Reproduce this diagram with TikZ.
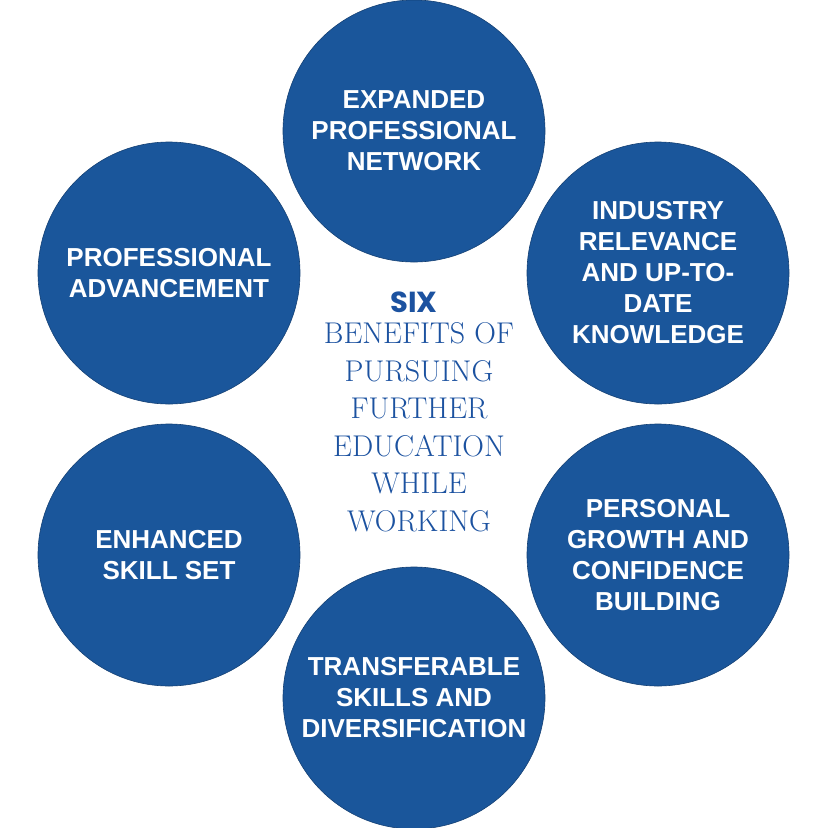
\documentclass[tikz,border=0pt]{standalone}
\usepackage{fontspec}
\usepackage{tikz}
\usepackage{color}
\newfontfamily\boxfont{Liberation Sans}
\newfontfamily\sixfont{Poppins}
\definecolor{benblue}{HTML}{1A569B}
\definecolor{headblue}{HTML}{1C52A0}

\begin{document}
\begin{tikzpicture}[x=1pt,y=-1pt,
  benefit/.style={circle,fill=benblue,draw=benblue!75!black,line width=0.6pt,minimum size=262pt,inner sep=0pt,
    text=white,align=center,font=\boxfont\bfseries\fontsize{26}{31}\selectfont}]
  \useasboundingbox (0,0) rectangle (828,828);
  \node [benefit] (net) at (414,131) {EXPANDED\\PROFESSIONAL\\NETWORK};
  \node [benefit] (ind) at (658,273) {INDUSTRY\\RELEVANCE\\AND UP-TO-\\DATE\\KNOWLEDGE};
  \node [benefit] (pers) at (658,555) {PERSONAL\\GROWTH AND\\CONFIDENCE\\BUILDING};
  \node [benefit] (trans) at (414,698) {TRANSFERABLE\\SKILLS AND\\DIVERSIFICATION};
  \node [benefit] (skill) at (169,555) {ENHANCED\\SKILL SET};
  \node [benefit] (adv) at (169,273) {PROFESSIONAL\\ADVANCEMENT};
  % centre heading
  \node [text=headblue,anchor=base,inner sep=0pt,font=\sixfont\bfseries\fontsize{29}{31}\selectfont] (six) at (414,312) {SIX};
  \node [text=headblue,align=center,inner sep=0pt,font=\fontsize{30}{37.5}\selectfont] (title) at (419,427)
    {BENEFITS OF\\PURSUING\\FURTHER\\EDUCATION\\WHILE\\WORKING};
\end{tikzpicture}
\end{document}
